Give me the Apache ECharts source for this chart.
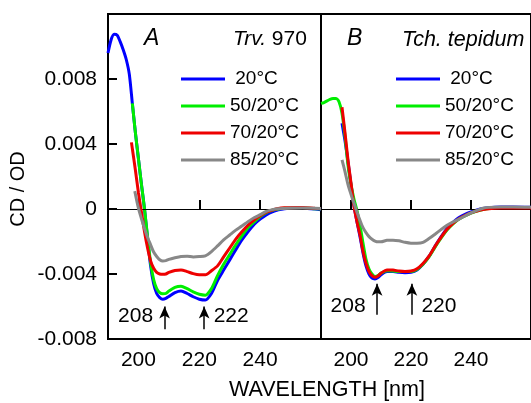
<!DOCTYPE html>
<html><head><meta charset="utf-8">
<script src="https://cdn.jsdelivr.net/npm/echarts@6/dist/echarts.min.js"></script>
<style>html,body{margin:0;padding:0;background:#fff}#c{width:531px;height:403px}</style>
</head><body><div id="c"></div>
<script>
// ---- data ----
const seriesNames = ['20°C', '50/20°C', '70/20°C', '85/20°C'];
const xTicks = [200, 220, 240];
const yTicks = [-0.008, -0.004, 0, 0.004, 0.008];

// Panel A (Trv. 970)
const waveA20 = [190,191,192,193,194,195,196,197,198,199,200,201,202,203,204,205,206,207,208,209,210,212,214,216,218,220,222,224,226,228,230,232,234,236,238,240,242,244,246,248,250,254,258,260];
const cdA20 = [0.0096,0.0104,0.01075,0.0107,0.0103,0.0098,0.0092,0.0083,0.0065,0.0047,0.0031,0.0015,0.0,-0.0018,-0.0035,-0.0046,-0.0052,-0.00545,-0.00555,-0.0055,-0.00538,-0.00515,-0.00505,-0.0052,-0.0054,-0.00555,-0.0056,-0.0052,-0.0044,-0.00376,-0.00313,-0.0025,-0.0019,-0.0014,-0.00095,-0.00062,-0.00036,-0.00017,-0.00005,0.00002,0.00004,0.00005,0.0,-0.00005];
const waveA50 = [198,199,200,201,202,203,204,205,206,207,208,209,210,212,214,216,218,220,222,224,226,228,230,232,234,236,238,240,242,244,246,248,250,254,258,260];
const cdA50 = [0.0065,0.0047,0.0031,0.0015,0.0,-0.0017,-0.0033,-0.00435,-0.0049,-0.00515,-0.00522,-0.0052,-0.00505,-0.00482,-0.00475,-0.0049,-0.0051,-0.00525,-0.0053,-0.0049,-0.0041,-0.0034,-0.0028,-0.0022,-0.00165,-0.00115,-0.0008,-0.00047,-0.00022,-0.00008,0.0,0.00004,0.00005,0.00006,0.00002,0.0];
const waveA70 = [197.7,199,200,201,202,203,204,205,206,207,208,209,210,212,214,216,218,220,222,224,226,228,230,232,234,236,238,240,242,244,246,248,250,254,258,260];
const cdA70 = [0.0041,0.0024,0.001,-0.0002,-0.0014,-0.0024,-0.0032,-0.00365,-0.0039,-0.004,-0.00402,-0.004,-0.0039,-0.00378,-0.00375,-0.00385,-0.00398,-0.00405,-0.00405,-0.0038,-0.0035,-0.00295,-0.0024,-0.00185,-0.0014,-0.001,-0.00068,-0.00042,-0.0002,-0.00007,0.00003,0.00007,0.00008,0.00009,0.00004,0.00002];
const waveA85 = [198.8,200,201,202,203,204,205,206,207,208,209,210,212,214,216,218,220,222,224,226,228,230,232,234,236,238,240,242,244,246,250,254,260];
const cdA85 = [0.0011,0.00005,-0.0006,-0.0012,-0.00175,-0.0022,-0.00265,-0.00292,-0.00312,-0.0032,-0.00318,-0.0031,-0.003,-0.00292,-0.0029,-0.00295,-0.00293,-0.00288,-0.00262,-0.00227,-0.0019,-0.0016,-0.0013,-0.00105,-0.00078,-0.00054,-0.00035,-0.00015,-0.00004,0.00002,0.00005,0.00006,0.00003];

// Panel B (Tch. tepidum)
const waveB20 = [197,198,199,200,201,202,203,204,205,206,207,208,209,210,212,214,216,218,220,222,224,226,228,230,232,234,236,238,240,242,244,246,250,254,260];
const cdB20 = [0.00528,0.0042,0.0029,0.0015,0.0002,-0.0008,-0.0017,-0.0027,-0.0035,-0.004,-0.00425,-0.0043,-0.00422,-0.00405,-0.00385,-0.00385,-0.0039,-0.00392,-0.0039,-0.00375,-0.0034,-0.00292,-0.0023,-0.00172,-0.0012,-0.00082,-0.00053,-0.00033,-0.00018,-0.00006,0.00003,0.00008,0.00012,0.00013,0.0001];
const waveB50 = [190,191,192,193,194,195,196,197,198,199,200,201,202,203,204,205,206,207,208,209,210,212,214,216,218,220,222,224,226,228,230,232,234,236,238,240,242,244,246,250,254,260];
const cdB50 = [0.0065,0.00655,0.00665,0.00675,0.0068,0.0068,0.0066,0.0059,0.0045,0.0027,0.0015,0.0006,-0.0001,-0.001,-0.0021,-0.0031,-0.0037,-0.004,-0.00415,-0.0041,-0.00395,-0.0038,-0.00382,-0.00385,-0.00385,-0.00385,-0.00372,-0.0034,-0.00295,-0.00235,-0.0018,-0.0013,-0.00092,-0.00062,-0.00042,-0.00025,-0.00012,-0.00003,0.00003,0.00007,0.00008,0.00007];
const waveB70 = [197,198,199,200,201,202,203,204,205,206,207,208,209,210,212,214,216,218,220,222,224,226,228,230,232,234,236,238,240,242,244,246,250,254,260];
const cdB70 = [0.00626,0.0047,0.003,0.0016,0.00015,-0.0008,-0.0016,-0.0026,-0.00335,-0.00385,-0.0041,-0.0042,-0.00412,-0.00395,-0.00375,-0.00376,-0.00382,-0.00385,-0.00382,-0.00368,-0.00335,-0.0029,-0.0023,-0.00175,-0.00125,-0.00088,-0.0006,-0.0004,-0.00024,-0.00012,-0.00004,0.00002,0.00006,0.00007,0.00006];
const waveB85 = [197,198,199,200,201,202,203,204,205,206,207,208,209,210,212,214,216,218,220,222,224,226,228,230,232,234,236,238,240,242,244,246,250,254,260];
const cdB85 = [0.00303,0.0023,0.0015,0.0009,0.00035,-0.0002,-0.0007,-0.00115,-0.00145,-0.0017,-0.00186,-0.00197,-0.00202,-0.00202,-0.00193,-0.00192,-0.00196,-0.00205,-0.0021,-0.0021,-0.00205,-0.00182,-0.00155,-0.00127,-0.001,-0.0008,-0.00062,-0.00043,-0.00024,-0.00008,0.00005,0.0001,0.00012,0.00012,0.0001];

// peak annotations (wavelength of arrow, label text)
const peakWaveA = [208.6, 221.6];
const peakTextA = ['208', '222'];
const peakWaveB = [208.7, 220.3];
const peakTextB = ['208', '220'];
const arrowSpanA = [-0.0074, -0.0060];
const arrowSpanB = [-0.0065, -0.0046];
const peakLabelYA = -0.0066;
const peakLabelYB = -0.0060;

// ---- chart ----
const colors = ['#0000ff', '#00ee00', '#ee0000', '#888888'];
const FONT = '"Liberation Sans", Arial, Helvetica, sans-serif';
const zip = (xs, ys) => xs.map((x, i) => [x, ys[i]]);

const panels = [
  { grid: 0, data: [zip(waveA20, cdA20), zip(waveA50, cdA50), zip(waveA70, cdA70), zip(waveA85, cdA85)] },
  { grid: 1, data: [zip(waveB20, cdB20), zip(waveB50, cdB50), zip(waveB70, cdB70), zip(waveB85, cdB85)] }
];

const series = [];
panels.forEach(p => {
  p.data.forEach((d, i) => {
    const s = {
      name: seriesNames[i], type: 'line', xAxisIndex: p.grid, yAxisIndex: p.grid,
      data: d, symbol: 'none', showSymbol: false, smooth: 0.25,
      lineStyle: { width: 3, color: colors[i] }, itemStyle: { color: colors[i] },
      z: 3 + i, silent: true, animation: false
    };
    if (i === 0) {
      s.markLine = { silent: true, symbol: 'none', animation: false,
        label: { show: false }, lineStyle: { color: '#000', width: 1, type: 'solid' },
        data: [{ yAxis: 0 }] };
    }
    series.push(s);
  });
});

function annot(grid, waves, texts, span, ly) {
  return {
    type: 'line', xAxisIndex: grid, yAxisIndex: grid, data: [], silent: true, animation: false,
    z: 10,
    markPoint: {
      silent: true, animation: false, symbol: 'circle', symbolSize: 1,
      itemStyle: { color: 'rgba(0,0,0,0)' },
      data: waves.map((w, i) => ({ coord: [w, ly], name: texts[i],
        label: { show: true, position: i === 0 ? 'left' : 'right', distance: i === 0 ? 11 : 9,
          formatter: texts[i], fontSize: 21, color: '#000', opacity: 1, fontFamily: FONT } }))
    },
    markLine: {
      silent: true, animation: false, symbol: ['none', 'arrow'], symbolSize: [8, 12],
      label: { show: false }, lineStyle: { color: '#000', width: 1.5, type: 'solid', opacity: 1 },
      itemStyle: { color: '#000' },
      data: waves.map(w => [{ coord: [w, span[0]] }, { coord: [w, span[1]] }])
    }
  };
}
series.push(annot(0, peakWaveA, peakTextA, arrowSpanA, peakLabelYA));
series.push(annot(1, peakWaveB, peakTextB, arrowSpanB, peakLabelYB));

const xAxisBase = gi => ({
  gridIndex: gi, type: 'value', min: 190, max: 260,
  axisLine: { show: false }, splitLine: { show: false },
  axisTick: { show: true, inside: true, length: 9, customValues: xTicks, lineStyle: { color: '#000', width: 2 } },
  axisLabel: { show: true, customValues: xTicks, fontSize: 21, color: '#000', margin: 11, fontFamily: FONT }
});

const legendBase = left => ({
  left: left, top: 64, orient: 'vertical', data: seriesNames, icon: 'rect',
  itemWidth: 44, itemHeight: 3, itemGap: 7, selectedMode: false,
  formatter: n => (n === seriesNames[0] ? ' ' + n : n),
  textStyle: { fontSize: 19, color: '#000', lineHeight: 20, fontFamily: FONT }
});

const option = {
  animation: false,
  backgroundColor: '#fff',
  textStyle: { fontFamily: FONT },
  grid: [
    { left: 108, top: 14, width: 213, height: 325, show: true, borderColor: '#000', borderWidth: 2, backgroundColor: 'transparent' },
    { left: 321, top: 14, width: 214, height: 325, show: true, borderColor: '#000', borderWidth: 2, backgroundColor: 'transparent' }
  ],
  xAxis: [xAxisBase(0), xAxisBase(1)],
  yAxis: [
    { gridIndex: 0, type: 'value', min: -0.008, max: 0.012,
      axisLine: { show: false }, splitLine: { show: false },
      axisTick: { show: true, inside: true, length: 9, customValues: yTicks, lineStyle: { color: '#000', width: 2 } },
      axisLabel: { show: true, customValues: yTicks, fontSize: 21, color: '#000', margin: 11, fontFamily: FONT,
        formatter: v => (Math.abs(v) < 1e-9 ? '0' : v.toFixed(3)) } },
    { gridIndex: 1, type: 'value', min: -0.008, max: 0.012,
      axisLine: { show: false }, splitLine: { show: false }, axisTick: { show: false }, axisLabel: { show: false } }
  ],
  title: [
    { text: 'A', left: 139, top: 22, textStyle: { fontStyle: 'italic', fontWeight: 'normal', fontSize: 23, color: '#000', fontFamily: FONT } },
    { text: '{i|Trv.} 970', left: 228, top: 24, textStyle: { fontWeight: 'normal', fontSize: 21, color: '#000', fontFamily: FONT,
        rich: { i: { fontStyle: 'italic', fontSize: 21, color: '#000', fontFamily: FONT } } } },
    { text: 'B', left: 342, top: 22, textStyle: { fontStyle: 'italic', fontWeight: 'normal', fontSize: 23, color: '#000', fontFamily: FONT } },
    { text: 'Tch. tepidum', left: 397, top: 24, textStyle: { fontStyle: 'italic', fontWeight: 'normal', fontSize: 21.5, color: '#000', fontFamily: FONT } }
  ],
  legend: [legendBase(176), legendBase(391)],
  graphic: [
    { type: 'text', x: 18.5, y: 189, rotation: Math.PI / 2,
      style: { text: 'CD / OD', fontSize: 20, fill: '#000', fontFamily: FONT, align: 'center', verticalAlign: 'middle' } },
    { type: 'text', x: 327, y: 390,
      style: { text: 'WAVELENGTH [nm]', fontSize: 21.5, fill: '#000', fontFamily: FONT, align: 'center', verticalAlign: 'middle' } }
  ],
  series: series
};

const chart = echarts.init(document.getElementById('c'), null, { renderer: 'canvas' });
chart.setOption(option);
</script>
</body></html>
